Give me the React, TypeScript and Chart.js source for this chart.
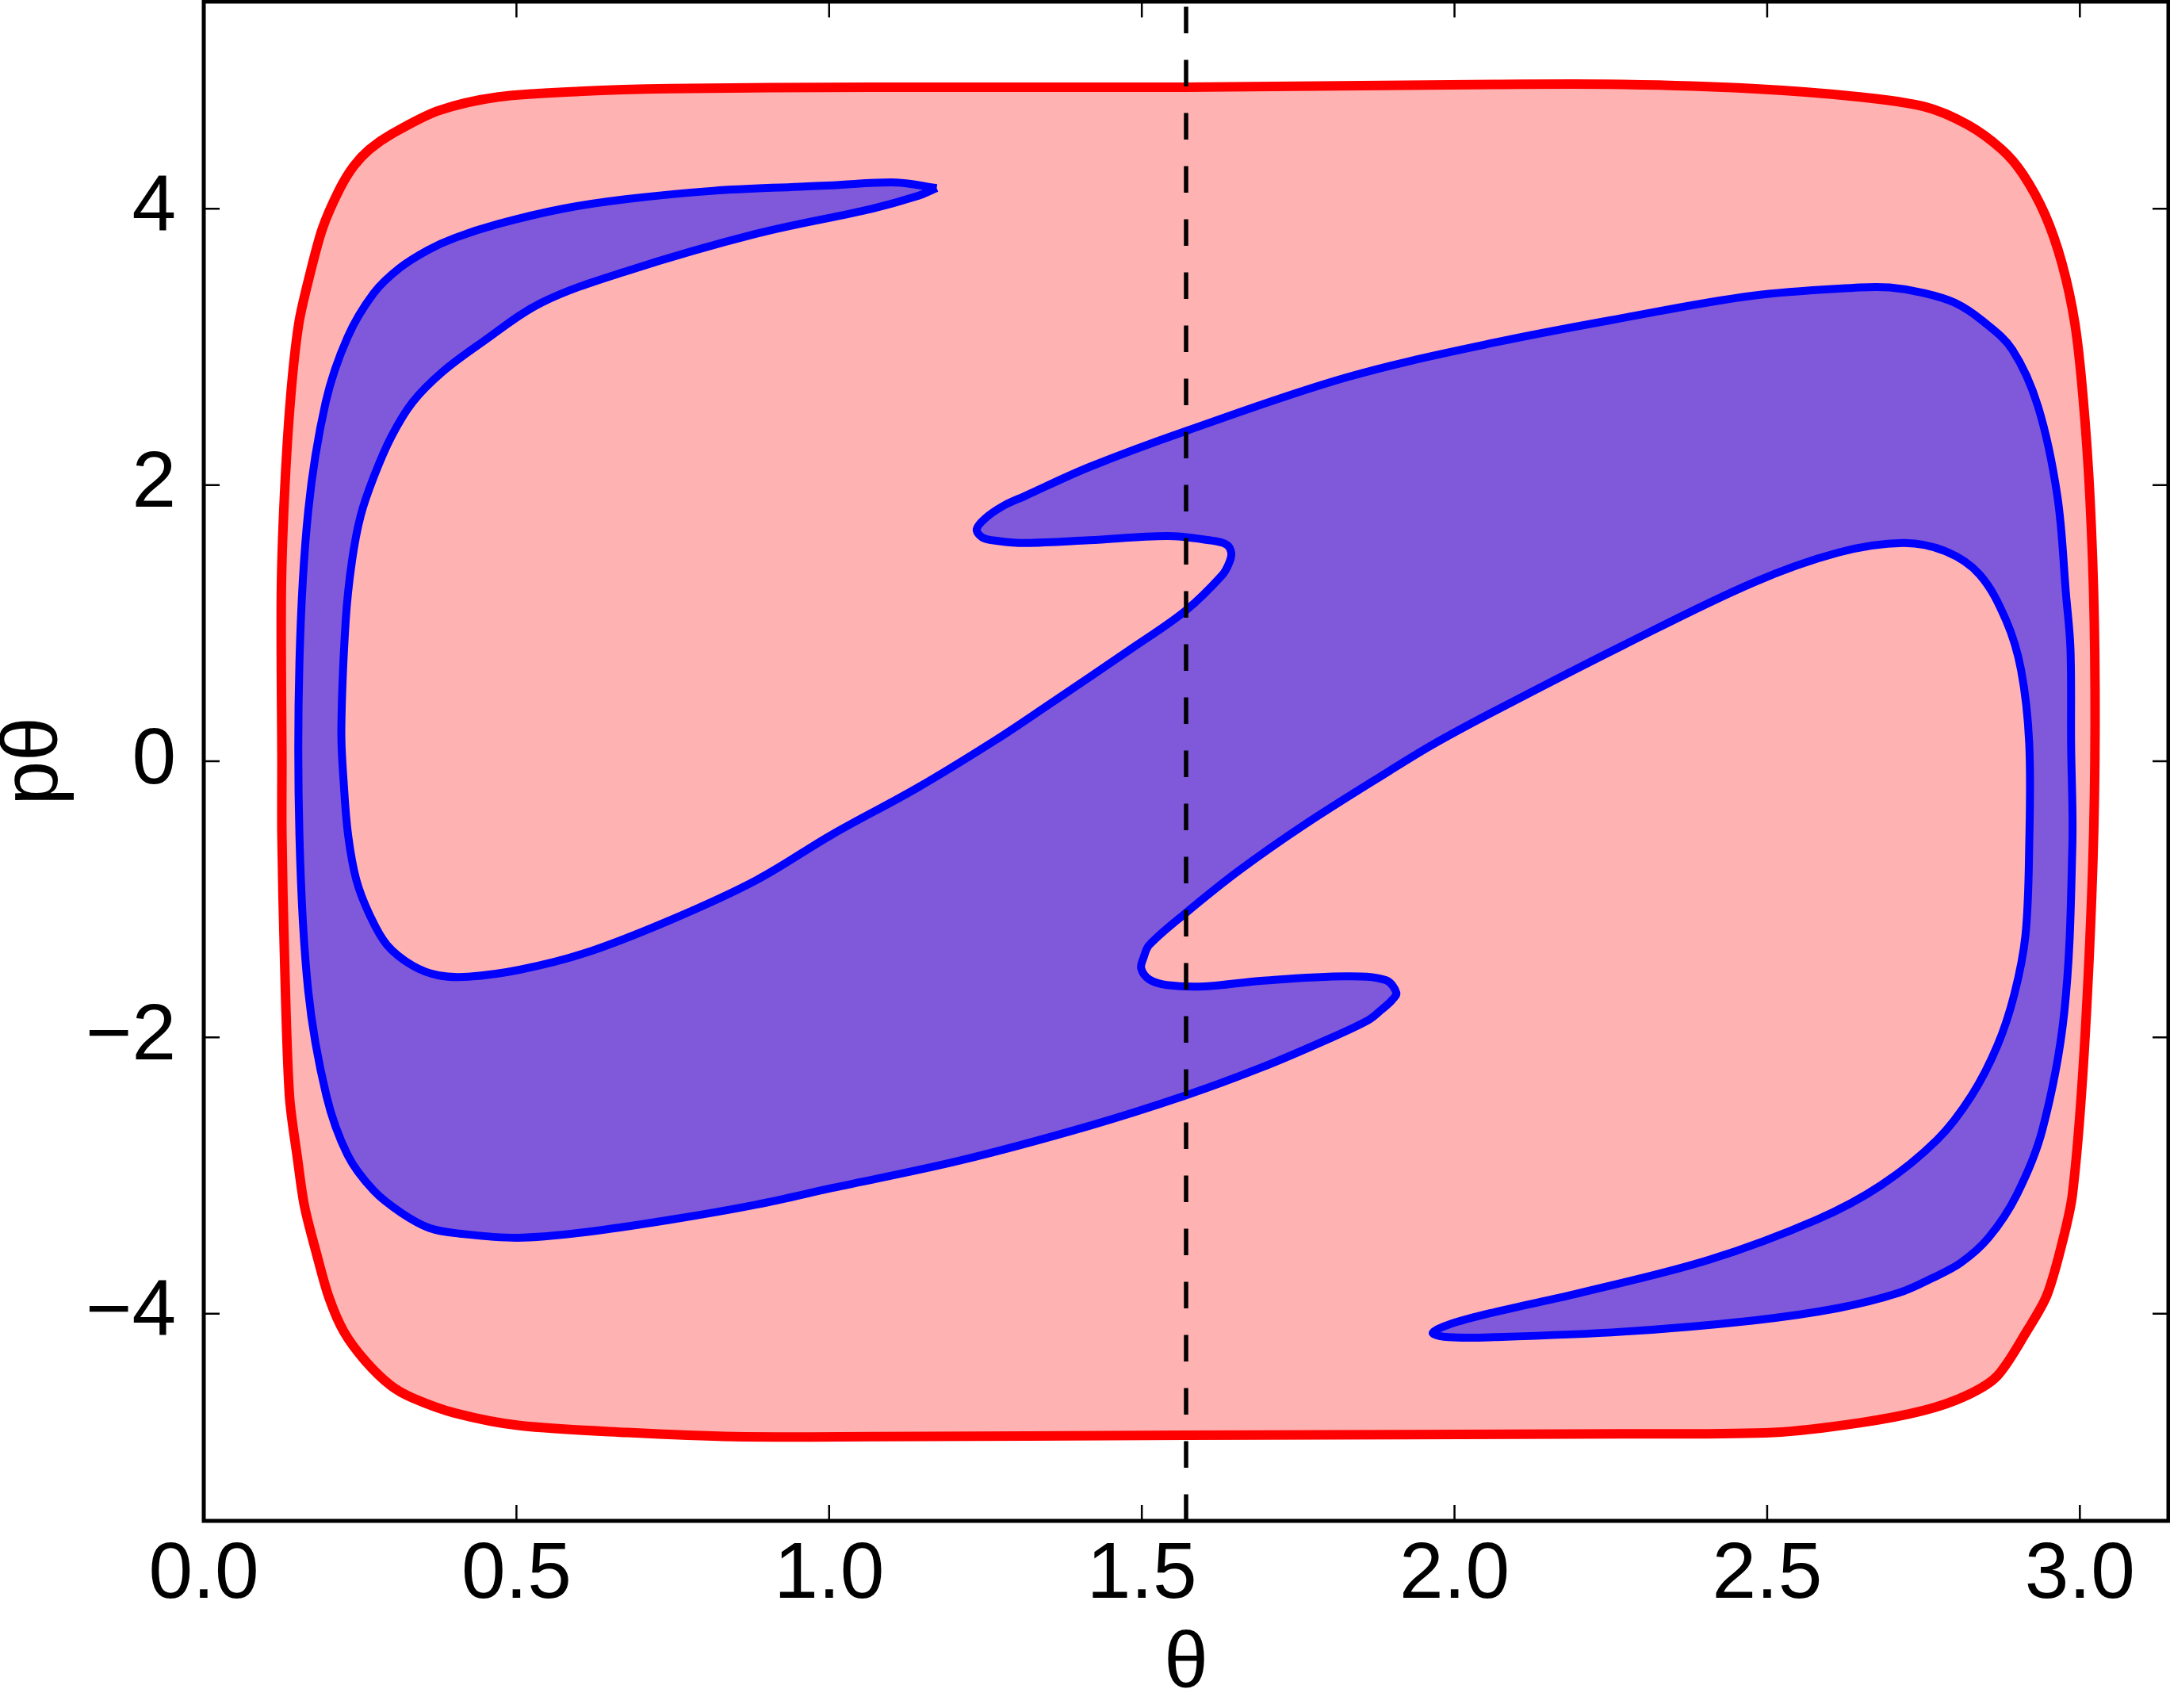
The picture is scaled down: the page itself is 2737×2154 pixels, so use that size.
import React, { useEffect, useRef } from "react";
import { Chart, registerables } from "chart.js";

Chart.register(...registerables);

const W = 2737;
const H = 2154;
const FONT = "'Liberation Sans', Arial, sans-serif";

// axis ranges and ticks
const thetaMin = 0;
const thetaMax = Math.PI;
const pMin = -5.5;
const pMax = 5.5;
const dividerTheta = Math.PI / 2;
const xTickValues = [0, 0.5, 1, 1.5, 2, 2.5, 3];
const xTickLabels = ["0.0", "0.5", "1.0", "1.5", "2.0", "2.5", "3.0"];
const yTickValues = [-4, -2, 0, 2, 4];
const yTickLabels = ["\u22124", "\u22122", "0", "2", "4"];

// red region boundary (closed curve)
const redTheta = [
  0.125, 0.124, 0.129, 0.139, 0.152, 0.170, 0.190, 0.217, 0.240, 0.265, 0.300, 0.375, 0.471, 0.600,
  0.746, 1.068, 1.570, 2.063, 2.270, 2.476, 2.648, 2.751, 2.820, 2.875, 2.909, 2.944, 2.971, 2.992,
  3.005, 3.016, 3.023, 3.024, 3.019, 3.005, 2.988, 2.971, 2.947, 2.916, 2.868, 2.820, 2.751, 2.648,
  2.510, 2.270, 1.570, 1.068, 0.849, 0.677, 0.505, 0.402, 0.334, 0.299, 0.258, 0.224, 0.200, 0.180,
  0.161, 0.150, 0.137, 0.129, 0.125,
];
const redP = [
  0.00, 1.20, 1.92, 2.64, 3.17, 3.53, 3.86, 4.14, 4.31, 4.43, 4.54, 4.71, 4.81, 4.85,
  4.87, 4.88, 4.88, 4.90, 4.90, 4.87, 4.81, 4.74, 4.61, 4.43, 4.25, 3.96, 3.61, 3.17,
  2.64, 1.92, 1.02, 0.00, -0.97, -2.24, -3.14, -3.50, -3.87, -4.12, -4.45, -4.59, -4.70, -4.79,
  -4.86, -4.87, -4.88, -4.89, -4.89, -4.86, -4.81, -4.72, -4.61, -4.52, -4.34, -4.13, -3.88, -3.56,
  -3.22, -2.88, -2.42, -1.40, -0.54,
];

// blue region boundary (closed curve)
const blueTheta = [
  1.172, 1.108, 1.005, 0.953, 0.815, 0.677, 0.574, 0.471, 0.402, 0.358, 0.313, 0.272, 0.230, 0.195,
  0.167, 0.153, 0.153, 0.167, 0.196, 0.230, 0.272, 0.316, 0.361, 0.409, 0.502, 0.609, 0.746, 0.884,
  1.005, 1.210, 1.416, 1.570, 1.690, 1.794, 1.862, 1.883, 1.900, 1.907, 1.890, 1.828, 1.690, 1.600,
  1.540, 1.512, 1.499, 1.503, 1.512, 1.570, 1.656, 1.760, 1.896, 1.965, 2.063, 2.270, 2.476, 2.613,
  2.717, 2.785, 2.840, 2.882, 2.906, 2.919, 2.919, 2.913, 2.895, 2.868, 2.827, 2.772, 2.682, 2.579,
  2.407, 2.200, 2.063, 1.990, 1.965, 1.990, 2.063, 2.270, 2.476, 2.613, 2.710, 2.765, 2.810, 2.854,
  2.899, 2.940, 2.975, 2.988, 2.986, 2.985, 2.978, 2.964, 2.933, 2.892, 2.844, 2.800, 2.751, 2.696,
  2.648, 2.476, 2.270, 2.063, 1.828, 1.570, 1.416, 1.313, 1.279, 1.250, 1.236, 1.245, 1.270, 1.313,
  1.416, 1.540, 1.608, 1.635, 1.643, 1.640, 1.629, 1.570, 1.485, 1.348, 1.265, 1.142, 1.005,
  0.884, 0.746, 0.609, 0.505, 0.423, 0.375, 0.334, 0.293, 0.265, 0.244, 0.231, 0.224, 0.220, 0.227,
  0.237, 0.251, 0.272, 0.300, 0.334, 0.382, 0.444, 0.540, 0.677, 0.884, 1.068, 1.140,
];
const blueP = [
  4.15, 4.19, 4.17, 4.16, 4.13, 4.07, 4.00, 3.89, 3.79, 3.70, 3.57, 3.39, 3.07, 2.60,
  1.81, 0.72, -0.54, -1.66, -2.42, -2.85, -3.11, -3.27, -3.38, -3.42, -3.45, -3.41, -3.32, -3.21,
  -3.09, -2.89, -2.64, -2.42, -2.22, -2.02, -1.875, -1.80, -1.73, -1.676, -1.585, -1.557, -1.59, -1.63,
  -1.62, -1.58, -1.50, -1.42, -1.33, -1.10, -0.79, -0.46, -0.07, 0.12, 0.36, 0.84, 1.29, 1.51,
  1.58, 1.52, 1.35, 1.02, 0.66, 0.13, -0.61, -1.26, -1.69, -2.06, -2.42, -2.74, -3.07, -3.32,
  -3.61, -3.85, -3.99, -4.08, -4.14, -4.17, -4.17, -4.13, -4.05, -3.96, -3.85, -3.74, -3.63, -3.45,
  -3.14, -2.67, -1.82, -0.61, 0.12, 0.81, 1.20, 1.92, 2.57, 2.98, 3.19, 3.32, 3.39, 3.43,
  3.43, 3.37, 3.21, 3.03, 2.78, 2.39, 2.13, 1.92, 1.85, 1.76, 1.68, 1.62, 1.595, 1.58,
  1.60, 1.63, 1.60, 1.57, 1.51, 1.44, 1.35, 1.09, 0.82, 0.40, 0.15, -0.19, -0.53,
  -0.86, -1.15, -1.39, -1.51, -1.56, -1.55, -1.48, -1.33, -1.11, -0.86, -0.54, -0.17, 0.23, 1.02,
  1.45, 1.78, 2.06, 2.35, 2.60, 2.82, 3.03, 3.32, 3.55, 3.82, 4.00, 4.09,
];

function closedPoints(xs: number[], ys: number[]) {
  const pts = xs.map((x, i) => ({ x, y: ys[i] }));
  pts.push({ x: xs[0], y: ys[0] });
  return pts;
}

function labelFor(values: number[], labels: string[], v: number) {
  const i = values.findIndex((t) => Math.abs(t - v) < 1e-9);
  return i >= 0 ? labels[i] : "";
}

const framePlugin = {
  id: "frame",
  afterDatasetsDraw(chart: any) {
    const { ctx, chartArea, scales } = chart;
    const { left, right, top, bottom } = chartArea;
    const tickLen = 20;
    ctx.save();
    ctx.strokeStyle = "#000";
    ctx.lineWidth = 2.5;
    ctx.beginPath();
    for (const v of xTickValues) {
      const px = scales.x.getPixelForValue(v);
      ctx.moveTo(px, bottom);
      ctx.lineTo(px, bottom - tickLen);
      ctx.moveTo(px, top);
      ctx.lineTo(px, top + tickLen);
    }
    for (const v of yTickValues) {
      const py = scales.y.getPixelForValue(v);
      ctx.moveTo(left, py);
      ctx.lineTo(left + tickLen, py);
      ctx.moveTo(right, py);
      ctx.lineTo(right - tickLen, py);
    }
    ctx.stroke();
    ctx.lineWidth = 5;
    ctx.strokeRect(left, top, right - left, bottom - top);
    ctx.restore();
  },
};

export default function App() {
  const canvasRef = useRef<HTMLCanvasElement | null>(null);

  useEffect(() => {
    const canvas = canvasRef.current;
    if (!canvas) return;
    const chart = new Chart(canvas, {
      type: "scatter",
      data: {
        datasets: [
          {
            data: closedPoints(redTheta, redP),
            showLine: true,
            fill: "shape",
            backgroundColor: "rgba(255,0,0,0.3)",
            borderColor: "#ff0000",
            borderWidth: 12,
            borderJoinStyle: "round",
            pointRadius: 0,
            tension: 0.3,
            order: 3,
          },
          {
            data: closedPoints(blueTheta, blueP),
            showLine: true,
            fill: "shape",
            backgroundColor: "rgba(0,0,255,0.5)",
            borderColor: "#0000ff",
            borderWidth: 10,
            borderJoinStyle: "round",
            pointRadius: 0,
            tension: 0.35,
            order: 2,
          },
          {
            data: [
              { x: dividerTheta, y: pMin },
              { x: dividerTheta, y: pMax },
            ],
            showLine: true,
            fill: false,
            borderColor: "#000000",
            borderWidth: 5.5,
            borderDash: [33.5, 33.5],
            pointRadius: 0,
            order: 1,
          },
        ] as any,
      },
      options: {
        responsive: false,
        maintainAspectRatio: false,
        animation: false,
        devicePixelRatio: 1,
        layout: { padding: { left: 0, right: 2, top: 2, bottom: 0 } },
        plugins: {
          legend: { display: false },
          tooltip: { enabled: false },
        },
        scales: {
          x: {
            type: "linear",
            min: thetaMin,
            max: thetaMax,
            afterBuildTicks: (s: any) => {
              s.ticks = xTickValues.map((v) => ({ value: v }));
            },
            afterFit: (s: any) => {
              s.height = H - 1918;
              s.paddingLeft = 0;
              s.paddingRight = 0;
            },
            grid: { display: false },
            border: { display: false },
            ticks: {
              color: "#000",
              font: { family: FONT, size: 100, lineHeight: 1 },
              padding: 11,
              maxRotation: 0,
              autoSkip: false,
              callback: (v: any) => labelFor(xTickValues, xTickLabels, Number(v)),
            },
            title: {
              display: true,
              text: "θ",
              color: "#000",
              font: { family: FONT, size: 100, lineHeight: 1 },
              padding: { top: 0, bottom: 4 },
            },
          },
          y: {
            type: "linear",
            min: pMin,
            max: pMax,
            afterBuildTicks: (s: any) => {
              s.ticks = yTickValues.map((v) => ({ value: v }));
            },
            afterFit: (s: any) => {
              s.width = 257;
              s.paddingTop = 0;
              s.paddingBottom = 0;
            },
            grid: { display: false },
            border: { display: false },
            ticks: {
              color: "#000",
              font: { family: FONT, size: 100, lineHeight: 1 },
              padding: 27,
              autoSkip: false,
              callback: (v: any) => labelFor(yTickValues, yTickLabels, Number(v)),
            },
            title: {
              display: true,
              text: "pθ",
              color: "#000",
              font: { family: FONT, size: 100, lineHeight: 0.88 },
              padding: 0,
            },
          },
        },
      } as any,
      plugins: [framePlugin],
    });
    return () => chart.destroy();
  }, []);

  return (
    <div style={{ position: "absolute", left: 0, top: 0, width: W, height: H, background: "#fff" }}>
      <canvas ref={canvasRef} width={W} height={H} style={{ width: W, height: H, display: "block" }} />
    </div>
  );
}
